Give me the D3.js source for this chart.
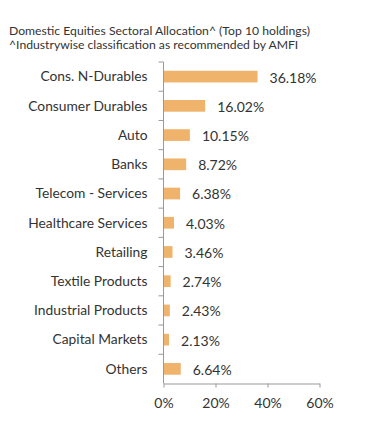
<!DOCTYPE html>
<html>
<head>
<meta charset="utf-8">
<script src="https://cdn.jsdelivr.net/npm/d3@7"></script>
<style>
  body { margin: 0; background: #fff; }
  text { font-family: Lato, sans-serif; fill: #333; }
</style>
</head>
<body>
<svg width="391" height="434"></svg>
<script>
const titleLines = [
    'Domestic Equities Sectoral Allocation^ (Top 10 holdings)',
    '^Industrywise classification as recommended by AMFI',
];
const categories = [
    'Cons. N-Durables', 'Consumer Durables', 'Auto', 'Banks',
    'Telecom - Services', 'Healthcare Services', 'Retailing',
    'Textile Products', 'Industrial Products', 'Capital Markets', 'Others',
];
const values = [36.18, 16.02, 10.15, 8.72, 6.38, 4.03, 3.46, 2.74, 2.43, 2.13, 6.64];
const xTicks = [0, 20, 40, 60];

const svg = d3.select('svg');
const plotLeft = 163.5, plotRight = 319.5, plotTop = 62, plotBottom = 383.5;

svg.append('g')
    .selectAll('text')
    .data(titleLines)
    .join('text')
    .attr('x', 9)
    .attr('y', (d, i) => 35 + i * 14)
    .attr('font-size', 12.2)
    .text((d) => d);

const x = d3.scaleLinear().domain([0, 60]).range([plotLeft, plotRight]);
const y = d3.scaleBand().domain(categories).range([plotTop, plotBottom]).paddingInner(0.6).paddingOuter(0.3);
const yTicks = d3.scaleBand().domain(categories).range([plotTop, plotBottom]);

// bars
svg.append('g')
    .selectAll('rect')
    .data(values)
    .join('rect')
    .attr('x', x(0))
    .attr('y', (d, i) => y(categories[i]))
    .attr('width', (d) => x(d) - x(0))
    .attr('height', y.bandwidth())
    .attr('fill', '#f0b36c');

// value labels
svg.append('g')
    .selectAll('text')
    .data(values)
    .join('text')
    .attr('x', (d) => x(d) + 12)
    .attr('y', (d, i) => y(categories[i]) + y.bandwidth() / 2 + 1)
    .attr('dy', '0.35em')
    .attr('font-size', 14)
    .text((d) => d.toFixed(2) + '%');

// y axis line with ticks at band edges
const yAxisG = svg.append('g');
yAxisG.append('line')
    .attr('x1', plotLeft).attr('x2', plotLeft)
    .attr('y1', plotTop).attr('y2', plotBottom)
    .attr('stroke', '#999');
yAxisG.selectAll('line.tick')
    .data(categories)
    .join('line')
    .attr('class', 'tick')
    .attr('x1', plotLeft - 5).attr('x2', plotLeft)
    .attr('y1', (d) => yTicks(d)).attr('y2', (d) => yTicks(d))
    .attr('stroke', '#999');
yAxisG.selectAll('text')
    .data(categories)
    .join('text')
    .attr('x', plotLeft - 16)
    .attr('y', (d) => yTicks(d) + yTicks.bandwidth() / 2)
    .attr('dy', '0.35em')
    .attr('text-anchor', 'end')
    .attr('font-size', 13.8)
    .text((d) => d);

// x axis
const xAxisG = svg.append('g')
    .attr('transform', `translate(0,${plotBottom})`)
    .call(d3.axisBottom(x).tickValues(xTicks).tickSize(4).tickSizeOuter(0).tickPadding(11).tickFormat((d) => d + '%'));
xAxisG.select('.domain').attr('stroke', '#999');
xAxisG.selectAll('.tick line').attr('stroke', '#999');
xAxisG.selectAll('.tick text')
    .attr('font-size', 14)
    .attr('font-family', 'Lato, sans-serif')
    .attr('fill', '#333');
</script>
</body>
</html>
